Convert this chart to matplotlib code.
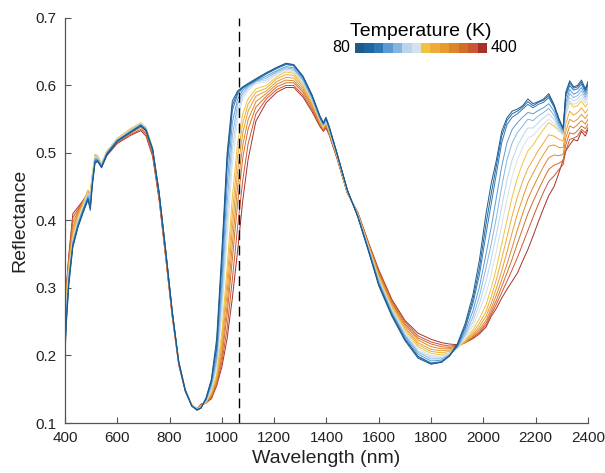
import matplotlib
matplotlib.use('Agg')
import matplotlib.pyplot as plt
import numpy as np
from matplotlib.colors import ListedColormap

# - Data: reflectance spectra, one list per temperature

wavelength = [400, 405, 415, 430, 450, 470, 488, 497, 505, 515, 525, 540, 560, 600, 650, 690, 710, 735, 760, 785, 810, 835, 860, 885, 905,
              920, 940, 960, 980, 1000, 1020, 1040, 1060, 1080, 1100, 1130,
              1170, 1210, 1245, 1275, 1310, 1345, 1375, 1388, 1398, 1410, 1440, 1480,
              1520, 1560, 1600, 1650, 1700, 1750, 1800, 1840, 1870, 1900, 1930, 1960, 1985,
              2010, 2030, 2050, 2070, 2090, 2110, 2130, 2150, 2170, 2190, 2210, 2230, 2250, 2270, 2290, 2305, 2315, 2330, 2345, 2360, 2375, 2390, 2400]

temperatures = [80, 105, 130, 155, 180, 205, 230, 255, 280, 305, 330, 355, 380, 400]

r_80 = [0.198, 0.245, 0.305, 0.360, 0.390, 0.412, 0.430, 0.415, 0.452, 0.485, 0.487, 0.478, 0.497, 0.517, 0.530, 0.540, 0.533, 0.505, 0.440, 0.355, 0.265, 0.190, 0.148, 0.125, 0.119,
        0.122, 0.138, 0.165, 0.225, 0.355, 0.500, 0.577, 0.592, 0.598, 0.603, 0.610,
        0.619, 0.627, 0.633, 0.631, 0.614, 0.586, 0.555, 0.545, 0.553, 0.540, 0.500, 0.445,
        0.405, 0.355, 0.303, 0.258, 0.222, 0.196, 0.187, 0.190, 0.200, 0.217, 0.247, 0.290, 0.342,
        0.410, 0.455, 0.490, 0.532, 0.552, 0.562, 0.565, 0.570, 0.580, 0.573, 0.576, 0.580, 0.588, 0.572, 0.550, 0.537, 0.590, 0.607, 0.598, 0.600, 0.608, 0.595, 0.606]
r_105 = [0.205, 0.250, 0.310, 0.362, 0.392, 0.414, 0.432, 0.420, 0.455, 0.487, 0.488, 0.479, 0.498, 0.518, 0.531, 0.541, 0.534, 0.505, 0.440, 0.355, 0.265, 0.190, 0.148, 0.125, 0.119,
         0.122, 0.137, 0.163, 0.215, 0.345, 0.490, 0.570, 0.590, 0.597, 0.602, 0.609,
         0.618, 0.626, 0.632, 0.630, 0.613, 0.585, 0.554, 0.544, 0.552, 0.539, 0.500, 0.445,
         0.405, 0.356, 0.305, 0.260, 0.224, 0.198, 0.188, 0.190, 0.199, 0.215, 0.243, 0.283, 0.330,
         0.395, 0.440, 0.482, 0.525, 0.548, 0.558, 0.562, 0.568, 0.576, 0.570, 0.575, 0.578, 0.585, 0.570, 0.548, 0.536, 0.587, 0.604, 0.596, 0.598, 0.605, 0.593, 0.603]
r_130 = [0.210, 0.255, 0.312, 0.364, 0.393, 0.415, 0.433, 0.423, 0.457, 0.488, 0.489, 0.480, 0.499, 0.518, 0.531, 0.541, 0.534, 0.506, 0.441, 0.356, 0.265, 0.190, 0.148, 0.125, 0.120,
         0.122, 0.136, 0.161, 0.210, 0.333, 0.478, 0.563, 0.587, 0.596, 0.601, 0.608,
         0.617, 0.625, 0.631, 0.629, 0.612, 0.584, 0.553, 0.543, 0.551, 0.538, 0.499, 0.445,
         0.406, 0.357, 0.306, 0.261, 0.225, 0.199, 0.189, 0.191, 0.199, 0.214, 0.240, 0.277, 0.320,
         0.380, 0.425, 0.470, 0.515, 0.542, 0.553, 0.558, 0.565, 0.572, 0.567, 0.572, 0.575, 0.582, 0.568, 0.546, 0.535, 0.583, 0.600, 0.593, 0.595, 0.602, 0.590, 0.600]
r_155 = [0.220, 0.260, 0.315, 0.366, 0.395, 0.417, 0.435, 0.428, 0.460, 0.490, 0.490, 0.481, 0.500, 0.519, 0.532, 0.542, 0.535, 0.506, 0.441, 0.356, 0.266, 0.190, 0.149, 0.126, 0.120,
         0.123, 0.135, 0.158, 0.200, 0.310, 0.452, 0.545, 0.580, 0.593, 0.600, 0.607,
         0.614, 0.622, 0.628, 0.626, 0.610, 0.582, 0.552, 0.542, 0.550, 0.537, 0.499, 0.444,
         0.406, 0.358, 0.308, 0.263, 0.228, 0.202, 0.192, 0.193, 0.200, 0.213, 0.235, 0.266, 0.302,
         0.350, 0.390, 0.435, 0.480, 0.515, 0.535, 0.545, 0.553, 0.560, 0.558, 0.563, 0.567, 0.573, 0.562, 0.542, 0.532, 0.575, 0.594, 0.587, 0.590, 0.597, 0.586, 0.595]
r_180 = [0.228, 0.265, 0.318, 0.368, 0.397, 0.418, 0.437, 0.431, 0.462, 0.492, 0.491, 0.482, 0.500, 0.519, 0.532, 0.542, 0.535, 0.506, 0.441, 0.356, 0.266, 0.191, 0.149, 0.126, 0.120,
         0.123, 0.134, 0.155, 0.193, 0.292, 0.425, 0.525, 0.572, 0.589, 0.598, 0.606,
         0.611, 0.620, 0.626, 0.624, 0.608, 0.580, 0.551, 0.541, 0.549, 0.536, 0.498, 0.444,
         0.407, 0.359, 0.310, 0.265, 0.230, 0.205, 0.195, 0.195, 0.201, 0.212, 0.231, 0.257, 0.288,
         0.330, 0.365, 0.405, 0.450, 0.490, 0.515, 0.530, 0.540, 0.550, 0.548, 0.555, 0.560, 0.566, 0.556, 0.538, 0.530, 0.568, 0.588, 0.582, 0.585, 0.592, 0.582, 0.590]
r_205 = [0.235, 0.270, 0.320, 0.370, 0.399, 0.420, 0.439, 0.434, 0.464, 0.493, 0.492, 0.483, 0.501, 0.520, 0.533, 0.543, 0.536, 0.507, 0.442, 0.356, 0.266, 0.191, 0.149, 0.126, 0.121,
         0.124, 0.133, 0.152, 0.186, 0.275, 0.400, 0.505, 0.562, 0.585, 0.596, 0.605,
         0.608, 0.618, 0.624, 0.622, 0.606, 0.578, 0.550, 0.540, 0.548, 0.535, 0.498, 0.443,
         0.407, 0.360, 0.312, 0.267, 0.232, 0.207, 0.198, 0.197, 0.202, 0.212, 0.228, 0.250, 0.277,
         0.310, 0.343, 0.380, 0.420, 0.460, 0.490, 0.510, 0.525, 0.537, 0.537, 0.545, 0.552, 0.558, 0.550, 0.535, 0.528, 0.562, 0.582, 0.577, 0.580, 0.587, 0.578, 0.585]
r_230 = [0.245, 0.278, 0.325, 0.372, 0.401, 0.422, 0.441, 0.437, 0.467, 0.495, 0.494, 0.484, 0.502, 0.521, 0.534, 0.544, 0.537, 0.507, 0.442, 0.357, 0.266, 0.191, 0.150, 0.127, 0.121,
         0.124, 0.132, 0.149, 0.180, 0.260, 0.375, 0.483, 0.550, 0.580, 0.593, 0.603,
         0.605, 0.616, 0.622, 0.620, 0.604, 0.577, 0.549, 0.539, 0.547, 0.534, 0.497, 0.443,
         0.408, 0.361, 0.313, 0.269, 0.235, 0.210, 0.200, 0.199, 0.203, 0.211, 0.225, 0.244, 0.267,
         0.292, 0.320, 0.355, 0.393, 0.432, 0.465, 0.490, 0.508, 0.522, 0.526, 0.535, 0.543, 0.550, 0.544, 0.532, 0.526, 0.556, 0.577, 0.572, 0.575, 0.582, 0.574, 0.580]
r_255 = [0.270, 0.290, 0.330, 0.375, 0.405, 0.425, 0.445, 0.440, 0.470, 0.498, 0.496, 0.485, 0.503, 0.522, 0.536, 0.545, 0.538, 0.508, 0.443, 0.357, 0.267, 0.192, 0.150, 0.127, 0.121,
         0.125, 0.132, 0.146, 0.172, 0.235, 0.330, 0.435, 0.515, 0.558, 0.580, 0.595,
         0.600, 0.613, 0.620, 0.618, 0.602, 0.576, 0.548, 0.538, 0.546, 0.533, 0.497, 0.442,
         0.408, 0.362, 0.315, 0.271, 0.237, 0.213, 0.203, 0.201, 0.204, 0.211, 0.222, 0.238, 0.255,
         0.275, 0.300, 0.330, 0.365, 0.400, 0.435, 0.463, 0.485, 0.503, 0.512, 0.524, 0.535, 0.545, 0.540, 0.532, 0.528, 0.556, 0.575, 0.568, 0.570, 0.577, 0.568, 0.574]
r_280 = [0.265, 0.290, 0.332, 0.380, 0.407, 0.426, 0.445, 0.440, 0.469, 0.497, 0.495, 0.484, 0.502, 0.521, 0.535, 0.544, 0.537, 0.507, 0.441, 0.355, 0.265, 0.191, 0.150, 0.127, 0.121,
         0.125, 0.131, 0.144, 0.168, 0.224, 0.310, 0.410, 0.495, 0.545, 0.572, 0.590,
         0.596, 0.610, 0.616, 0.615, 0.599, 0.574, 0.547, 0.537, 0.545, 0.532, 0.496, 0.442,
         0.409, 0.363, 0.317, 0.273, 0.240, 0.216, 0.206, 0.204, 0.206, 0.212, 0.221, 0.234, 0.248,
         0.265, 0.287, 0.313, 0.343, 0.375, 0.407, 0.435, 0.458, 0.477, 0.490, 0.504, 0.515, 0.527, 0.525, 0.520, 0.518, 0.543, 0.562, 0.556, 0.560, 0.567, 0.559, 0.565]
r_305 = [0.262, 0.292, 0.335, 0.385, 0.409, 0.427, 0.444, 0.439, 0.468, 0.495, 0.494, 0.483, 0.501, 0.520, 0.533, 0.542, 0.535, 0.505, 0.439, 0.353, 0.264, 0.190, 0.149, 0.127, 0.121,
         0.126, 0.131, 0.142, 0.165, 0.214, 0.293, 0.388, 0.473, 0.530, 0.562, 0.584,
         0.592, 0.606, 0.612, 0.611, 0.596, 0.572, 0.545, 0.536, 0.543, 0.531, 0.495, 0.441,
         0.410, 0.364, 0.319, 0.275, 0.242, 0.219, 0.209, 0.207, 0.208, 0.212, 0.220, 0.231, 0.243,
         0.258, 0.277, 0.300, 0.325, 0.353, 0.382, 0.410, 0.433, 0.455, 0.470, 0.485, 0.498, 0.510, 0.512, 0.508, 0.508, 0.532, 0.550, 0.546, 0.550, 0.557, 0.551, 0.557]
r_330 = [0.258, 0.294, 0.338, 0.390, 0.411, 0.428, 0.443, 0.438, 0.467, 0.493, 0.493, 0.482, 0.500, 0.518, 0.531, 0.540, 0.533, 0.503, 0.437, 0.351, 0.262, 0.189, 0.148, 0.126, 0.121,
         0.126, 0.130, 0.141, 0.162, 0.205, 0.275, 0.365, 0.450, 0.512, 0.549, 0.576,
         0.588, 0.602, 0.608, 0.607, 0.593, 0.570, 0.544, 0.535, 0.542, 0.530, 0.494, 0.441,
         0.410, 0.365, 0.321, 0.277, 0.245, 0.223, 0.213, 0.210, 0.210, 0.213, 0.219, 0.229, 0.239,
         0.252, 0.270, 0.290, 0.312, 0.335, 0.360, 0.386, 0.410, 0.432, 0.449, 0.465, 0.480, 0.493, 0.497, 0.496, 0.498, 0.522, 0.540, 0.537, 0.542, 0.548, 0.543, 0.550]
r_355 = [0.255, 0.296, 0.342, 0.397, 0.414, 0.429, 0.442, 0.437, 0.465, 0.491, 0.491, 0.481, 0.498, 0.517, 0.529, 0.538, 0.530, 0.500, 0.435, 0.349, 0.261, 0.188, 0.148, 0.126, 0.121,
         0.127, 0.130, 0.140, 0.160, 0.198, 0.260, 0.343, 0.425, 0.493, 0.535, 0.568,
         0.584, 0.598, 0.604, 0.604, 0.590, 0.567, 0.543, 0.534, 0.541, 0.529, 0.494, 0.441,
         0.411, 0.366, 0.323, 0.279, 0.247, 0.226, 0.217, 0.213, 0.212, 0.214, 0.219, 0.227, 0.236,
         0.248, 0.265, 0.282, 0.302, 0.322, 0.343, 0.366, 0.388, 0.410, 0.428, 0.445, 0.461, 0.476, 0.482, 0.485, 0.489, 0.512, 0.530, 0.528, 0.533, 0.540, 0.536, 0.543]
r_380 = [0.252, 0.298, 0.346, 0.404, 0.417, 0.430, 0.441, 0.436, 0.463, 0.490, 0.490, 0.480, 0.497, 0.515, 0.527, 0.535, 0.528, 0.498, 0.433, 0.347, 0.259, 0.187, 0.147, 0.126, 0.121,
         0.127, 0.130, 0.138, 0.157, 0.190, 0.240, 0.313, 0.390, 0.460, 0.513, 0.558,
         0.580, 0.594, 0.600, 0.600, 0.586, 0.564, 0.541, 0.533, 0.539, 0.528, 0.493, 0.440,
         0.411, 0.367, 0.325, 0.281, 0.250, 0.229, 0.220, 0.216, 0.214, 0.215, 0.219, 0.226, 0.234,
         0.245, 0.261, 0.276, 0.293, 0.310, 0.327, 0.345, 0.365, 0.385, 0.405, 0.424, 0.442, 0.458, 0.466, 0.476, 0.483, 0.503, 0.520, 0.522, 0.525, 0.535, 0.530, 0.538]
r_400 = [0.250, 0.300, 0.350, 0.410, 0.420, 0.430, 0.440, 0.435, 0.462, 0.488, 0.489, 0.479, 0.496, 0.514, 0.526, 0.533, 0.525, 0.495, 0.430, 0.345, 0.258, 0.186, 0.147, 0.126, 0.121,
         0.128, 0.130, 0.136, 0.155, 0.183, 0.225, 0.285, 0.355, 0.430, 0.490, 0.547,
         0.575, 0.590, 0.597, 0.597, 0.583, 0.561, 0.539, 0.532, 0.537, 0.527, 0.492, 0.440,
         0.412, 0.368, 0.327, 0.283, 0.252, 0.233, 0.224, 0.219, 0.217, 0.216, 0.219, 0.225, 0.232,
         0.242, 0.258, 0.270, 0.285, 0.298, 0.310, 0.322, 0.340, 0.357, 0.377, 0.398, 0.418, 0.437, 0.450, 0.472, 0.490, 0.503, 0.512, 0.520, 0.518, 0.532, 0.525, 0.535]

spectra = [r_80, r_105, r_130, r_155, r_180, r_205, r_230, r_255, r_280, r_305, r_330, r_355, r_380, r_400]

line_colors = ['#1b5a8a', '#1f65a0', '#2f78b8', '#5b9bd5', '#86b6e0', '#b9d5ec', '#d6e1ea',
               '#f0c43c', '#efab38', '#e89a30', '#dc862b', '#d26f27', '#cd5434', '#a8302a']

laser_line = 1064

# - Plot

plt.rcParams['font.family'] = ['Liberation Sans', 'DejaVu Sans']
fig = plt.figure(figsize=(6.05, 4.73), dpi=100)
ax = fig.add_axes([0.1074, 0.1057, 0.8645, 0.8563])

# hot first so the cold curves sit on top
for temp, spec, col in reversed(list(zip(temperatures, spectra, line_colors))):
    ax.plot(wavelength, spec, color=col, lw=0.7)

ax.axvline(laser_line, color='black', lw=1.0, linestyle=(0, (7, 4)))

ax.set_xlim(400, 2400)
ax.set_ylim(0.1, 0.7)
ax.set_xticks(np.arange(400, 2401, 200))
ax.set_yticks([0.1, 0.2, 0.3, 0.4, 0.5, 0.6, 0.7])
ax.set_yticklabels(['0.1', '0.2', '0.3', '0.4', '0.5', '0.6', '0.7'])
ax.tick_params(direction='in', length=4, width=0.8, color='#555555',
               labelsize=11, labelcolor='#222222', pad=6)
for side in ['top', 'right']:
    ax.spines[side].set_visible(False)
for side in ['left', 'bottom']:
    ax.spines[side].set_color('#555555')
    ax.spines[side].set_linewidth(0.9)

ax.set_xlabel('Wavelength (nm)', fontsize=14, color='#222222', labelpad=3)
ax.set_ylabel('Reflectance', fontsize=14, color='#222222', labelpad=5)

# discrete colour bar for the temperatures
cax = fig.add_axes([0.587, 0.888, 0.218, 0.022])
cax.imshow(np.arange(len(line_colors))[None, :], cmap=ListedColormap(line_colors),
           aspect='auto', interpolation='nearest')
cax.set_axis_off()
cax.text(-0.04, 0.5, str(temperatures[0]), transform=cax.transAxes, ha='right', va='center', fontsize=11.5)
cax.text(1.03, 0.5, str(temperatures[-1]), transform=cax.transAxes, ha='left', va='center', fontsize=11.5)
cax.text(0.5, 1.25, 'Temperature (K)', transform=cax.transAxes, ha='center', va='bottom', fontsize=14)

fig.savefig('out.png', dpi=100)
